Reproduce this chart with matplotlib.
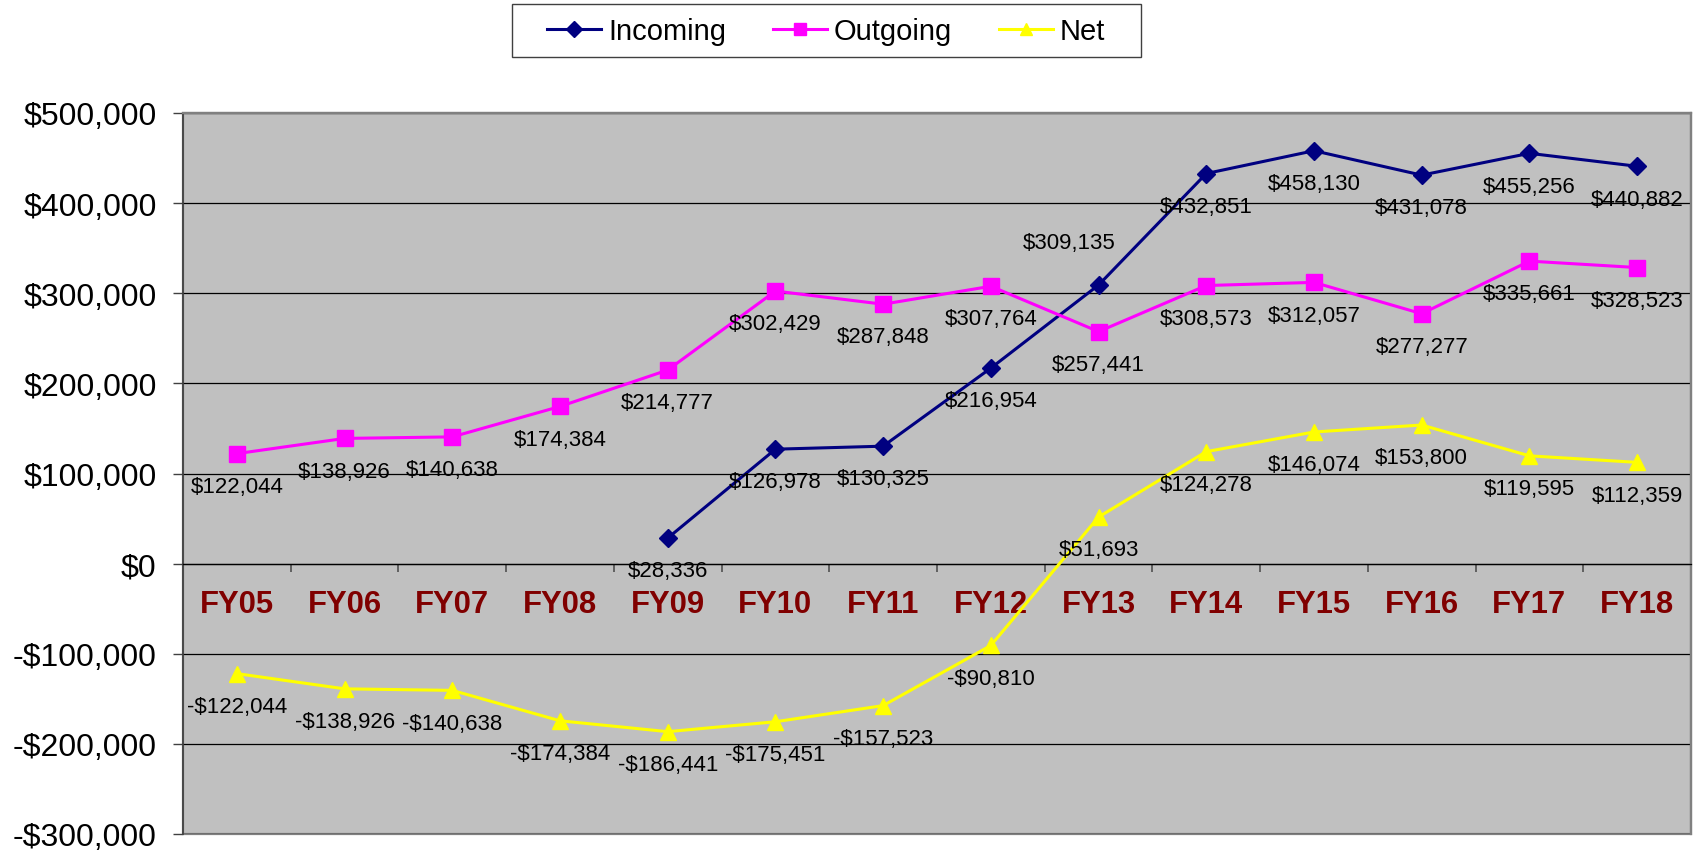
import numpy as np
import matplotlib
matplotlib.use("Agg")
import matplotlib.pyplot as plt
from matplotlib.ticker import FuncFormatter, FixedLocator
from matplotlib.patches import Rectangle

plt.rcParams['font.family'] = ['Liberation Sans', 'DejaVu Sans']

# --- data ---
years = ['FY05', 'FY06', 'FY07', 'FY08', 'FY09', 'FY10', 'FY11',
         'FY12', 'FY13', 'FY14', 'FY15', 'FY16', 'FY17', 'FY18']
incoming = [np.nan, np.nan, np.nan, np.nan, 28336, 126978, 130325,
            216954, 309135, 432851, 458130, 431078, 455256, 440882]
outgoing = [122044, 138926, 140638, 174384, 214777, 302429, 287848,
            307764, 257441, 308573, 312057, 277277, 335661, 328523]
net = [-122044, -138926, -140638, -174384, -186441, -175451, -157523,
       -90810, 51693, 124278, 146074, 153800, 119595, 112359]


def money(v, pos=None):
    v = int(round(v))
    return f"-${abs(v):,}" if v < 0 else f"${v:,}"


W, H = 1699, 853
fig = plt.figure(figsize=(W / 100, H / 100), dpi=100)
ax = fig.add_axes([183 / W, 1 - 835 / H, (1691 - 183) / W, (835 - 114) / H])
ax.set_facecolor('#C0C0C0')

x = np.arange(len(years))
series = [
    ('Incoming', incoming, '#000080', 'D', 9),
    ('Outgoing', outgoing, '#FF00FF', 's', 11),
    ('Net', net, '#FFFF00', '^', 11),
]
for name, vals, col, mk, ms in series:
    ax.plot(x, vals, color=col, lw=2.2, marker=mk, ms=ms,
            markeredgecolor=col, label=name, zorder=4)

# data labels, below each point (one label was nudged in the original)
nudge = {('Incoming', 8): (-21, 38)}
for name, vals, col, mk, ms in series:
    for i, v in enumerate(vals):
        if np.isnan(v):
            continue
        dx, dy = nudge.get((name, i), (0, -16))
        ax.annotate(money(v), (x[i], v), xytext=(dx, dy),
                    textcoords='offset points', ha='center', va='top',
                    fontsize=16, color='black', zorder=5)

# axes scales
ax.set_xlim(-0.5, len(years) - 0.5)
ax.set_ylim(-300000, 500000)
ax.set_yticks(np.arange(-300000, 500001, 100000))
ax.yaxis.set_major_formatter(FuncFormatter(money))
ax.tick_params(axis='y', labelsize=23, length=7, width=1, color='#404040', pad=12)
ax.grid(axis='y', color='black', lw=0.9, zorder=1)
ax.set_axisbelow(True)

# category axis crosses at zero
ax.spines['bottom'].set_position(('data', 0))
ax.spines['bottom'].set_color('black')
ax.spines['bottom'].set_linewidth(0.9)
ax.set_xticks(x)
ax.set_xticklabels(years)
ax.xaxis.set_minor_locator(FixedLocator(x[:-1] + 0.5))
ax.tick_params(axis='x', which='major', length=0, pad=18.5,
               labelsize=22.3, labelcolor='#800000')
ax.tick_params(axis='x', which='minor', length=6, width=1.2, color='#505050',
               direction='out')
for lab in ax.get_xticklabels():
    lab.set_fontweight('bold')

ax.spines['left'].set_color('#404040')
ax.spines['left'].set_linewidth(1.2)
for s in ('top', 'right'):
    ax.spines[s].set_color('#808080')
    ax.spines[s].set_linewidth(1.6)
ax.add_patch(Rectangle((0, 0), 1, 1, transform=ax.transAxes, fill=False,
                       ec='#808080', lw=1.6, clip_on=False, zorder=0))

# legend with its own box
leg = ax.legend(loc='center', bbox_to_anchor=(826 / W, 1 - 32 / H),
                bbox_transform=fig.transFigure, ncol=3, frameon=False,
                fontsize=21, handlelength=1.85, handletextpad=0.25,
                columnspacing=1.6, markerscale=0.85)
fig.patches.append(Rectangle((512 / W, 1 - 58 / H), (1141 - 512) / W, 53 / H,
                             transform=fig.transFigure, fill=False,
                             ec='#404040', lw=1))

fig.savefig('out.png', dpi=100, facecolor='white')
